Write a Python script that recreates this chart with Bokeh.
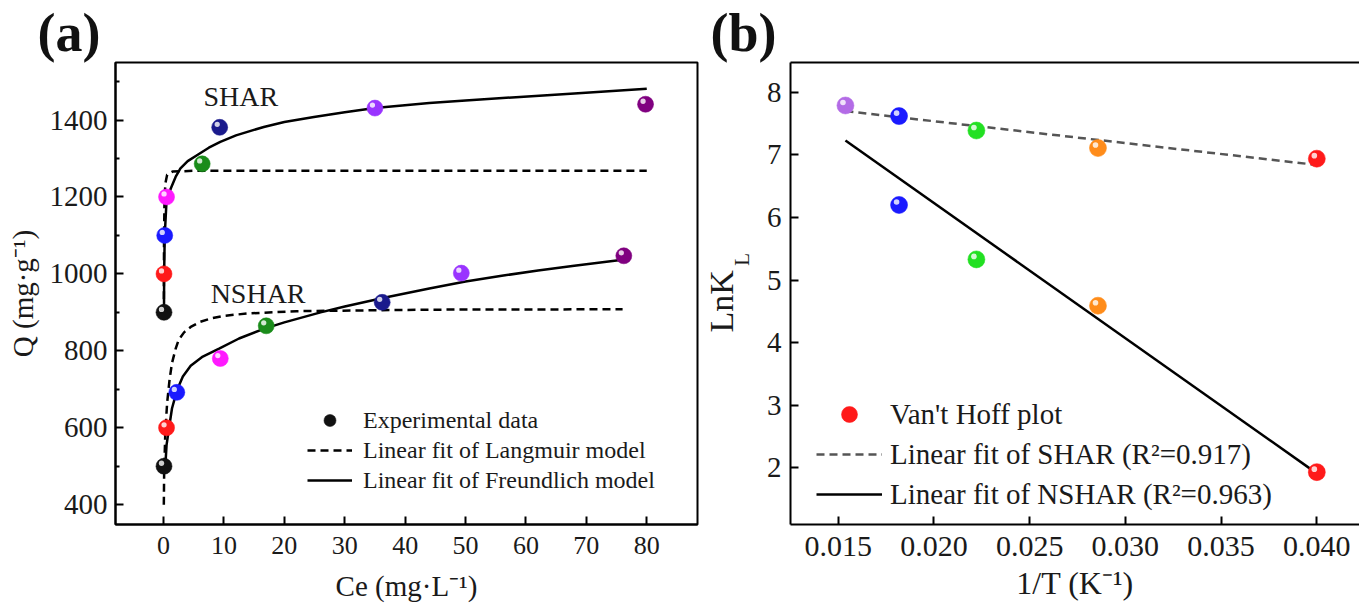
from bokeh.plotting import figure
from bokeh.models import (Range1d, FixedTicker, Legend, LegendItem, Label, Title,
                          ColumnDataSource, PrintfTickFormatter, LinearAxis)
from bokeh.transform import dodge
from bokeh.layouts import row
from bokeh.embed import file_html
from bokeh.resources import INLINE

SERIF = "Liberation Serif"

# ---------------- panel (a) data ----------------
shar_ce = [0.08, 0.08, 0.2, 0.5, 6.4, 9.3, 35.0, 79.8]
shar_q = [900, 1000, 1100, 1200, 1286, 1381, 1431, 1441]
nshar_ce = [0.08, 0.5, 2.2, 9.4, 17.0, 36.2, 49.3, 76.2]
nshar_q = [500, 600, 692, 780, 865, 926, 1002, 1047]
colors_a = ["#111111", "#ff1a1a", "#1a1aff", "#ff1aff", "#1a8c1a", "#1a1a8c", "#9933ff", "#800080"]

shar_lang_ce = [0.05, 0.08, 0.15, 0.3, 0.6, 1.5, 5.0, 80.0]
shar_lang_q = [900, 1080, 1180, 1235, 1258, 1266, 1268, 1268]
shar_freu_ce = [0.08, 0.1, 0.2, 0.5, 1.2, 2.0, 2.8, 4.0, 5.6, 7.5, 9.4, 12.0, 16.6, 20.0,
                24.9, 30.0, 35.0, 44.0, 50.0, 59.0, 68.0, 80.0]
shar_freu_q = [900, 1000, 1100, 1190, 1222, 1252, 1274, 1293, 1309, 1328, 1343, 1360, 1382,
               1395, 1408, 1420, 1431, 1444, 1451, 1460, 1469, 1481]

nshar_lang_ce = [0.05, 0.1, 0.3, 0.6, 1.0, 1.4, 2.0, 2.5, 3.4, 4.5, 6.0, 7.8, 10.0, 13.9,
                 22.0, 44.0, 76.0]
nshar_lang_q = [400, 480, 590, 665, 725, 768, 805, 828, 848, 862, 875, 884, 891, 897,
                903, 907, 908]
nshar_freu_ce = [0.3, 0.5, 0.88, 1.4, 2.26, 3.2, 4.5, 6.5, 9.2, 12.5, 16.6, 20.0, 26.0, 30.0,
                 36.5, 44.0, 50.0, 56.0, 62.0, 68.0, 76.0]
nshar_freu_q = [500, 555, 596, 650, 699, 733, 761, 785, 806, 832, 857, 874, 900, 915,
                938, 962, 980, 995, 1009, 1021, 1037]

xticks_a = [0, 10, 20, 30, 40, 50, 60, 70, 80]
yticks_a = [400, 600, 800, 1000, 1200, 1400]
yminor_a = [500, 700, 900, 1100, 1300, 1500]

# ---------------- panel (b) data ----------------
inv_t = [0.01538, 0.01818, 0.02222, 0.02857, 0.04]
lnk_shar = [7.79, 7.62, 7.39, 7.11, 6.94]
lnk_nshar = [6.20, 5.33, 4.59, 1.93]
inv_t_nshar = [0.01818, 0.02222, 0.02857, 0.04]
colors_b_shar = ["#b36be6", "#1a1aff", "#22e022", "#ff8c1a", "#ff1a1a"]
colors_b_nshar = ["#1a1aff", "#22e022", "#ff8c1a", "#ff1a1a"]
fit_x = [0.01538, 0.04]
fit_shar = [7.70, 6.84]
fit_nshar = [7.23, 1.91]

xticks_b = [0.015, 0.020, 0.025, 0.030, 0.035, 0.040]
yticks_b = [2, 3, 4, 5, 6, 7, 8]
# where the y title "LnK" and its subscript sit along the y axis
ytitle_pos_b = 4.66
ysub_pos_b = 5.33

TXT = "#1a1a1a"

# frame sizes (px) and ranges
A_XR, A_YR, A_W, A_H = (-7.95, 88.4), (348.5, 1549.5), 582, 466
B_XR, B_YR, B_W, B_H = (0.01251, 0.04223), (1.093, 8.477), 573, 464


def style_axis(ax, fs):
    ax.axis_line_width = 2
    ax.axis_line_color = "black"
    ax.major_tick_in = 8
    ax.major_tick_out = 0
    ax.minor_tick_in = 4
    ax.minor_tick_out = 0
    ax.major_tick_line_width = 2
    ax.minor_tick_line_width = 2
    ax.major_label_text_font = SERIF
    ax.major_label_text_color = TXT
    ax.major_label_text_font_size = fs
    ax.axis_label_text_font = SERIF
    ax.axis_label_text_font_style = "normal"
    ax.axis_label_text_color = TXT


def bare_axis(ax):
    ax.axis_line_color = None
    ax.major_tick_line_color = None
    ax.minor_tick_line_color = None
    ax.major_tick_in = 0
    ax.major_tick_out = 0
    ax.minor_tick_in = 0
    ax.minor_tick_out = 0
    ax.major_label_text_font = SERIF
    ax.major_label_text_color = TXT


def balls(p, src, size, xr, yr, w, h):
    """glossy sphere: coloured disc plus a small highlight up-left (offset given in px)."""
    r = p.scatter("x", "y", source=src, size=size, fill_color="c", line_color="c", line_alpha=0.55)
    dx = -2.5 * (xr[1] - xr[0]) / w
    dy = 3.0 * (yr[1] - yr[0]) / h
    p.scatter(dodge("x", dx, range=p.x_range), dodge("y", dy, range=p.y_range), source=src,
              size=size * 0.33, fill_color="white", fill_alpha=0.8, line_color=None)
    return r


# ================= panel (a) =================
pa = figure(width=700, height=610, output_backend="svg", toolbar_location=None,
            x_range=Range1d(*A_XR), y_range=Range1d(*A_YR),
            min_border_left=115, min_border_right=3, min_border_top=60, min_border_bottom=84)
pa.grid.visible = False
pa.outline_line_color = "black"
pa.outline_line_width = 2
pa.xaxis.ticker = FixedTicker(ticks=xticks_a)
pa.yaxis.ticker = FixedTicker(ticks=yticks_a, minor_ticks=yminor_a)
style_axis(pa.xaxis[0], "26px")
style_axis(pa.yaxis[0], "29px")
pa.xaxis.major_label_standoff = 12
pa.yaxis.major_label_standoff = 8
pa.xaxis.axis_label = "Ce (mg·L⁻¹)"
pa.xaxis.axis_label_text_font_size = "29px"
pa.xaxis.axis_label_standoff = 13
pa.yaxis.axis_label = "Q (mg·g⁻¹)"
pa.yaxis.axis_label_text_font_size = "29px"
pa.yaxis.axis_label_standoff = 8

pa.add_layout(Title(text="(a)", align="left", offset=-78, standoff=0,
                    text_font=SERIF, text_font_size="54px", text_font_style="bold",
                    text_color="#111111"), "above")

r_sl = pa.line(shar_lang_ce, shar_lang_q, line_color="black", line_width=2.5, line_dash="8 5")
pa.line(nshar_lang_ce, nshar_lang_q, line_color="black", line_width=2.5, line_dash="8 5")
r_sf = pa.line(shar_freu_ce, shar_freu_q, line_color="black", line_width=2.5)
pa.line(nshar_freu_ce, nshar_freu_q, line_color="black", line_width=2.5)

src_sa = ColumnDataSource(dict(x=shar_ce, y=shar_q, c=colors_a))
src_na = ColumnDataSource(dict(x=nshar_ce, y=nshar_q, c=colors_a))
r_pts = balls(pa, src_sa, 16, A_XR, A_YR, A_W, A_H)
balls(pa, src_na, 16, A_XR, A_YR, A_W, A_H)

pa.add_layout(Label(x=6.6, y=1462, text="SHAR", text_font=SERIF, text_font_size="28px",
                    text_baseline="middle", text_color=TXT))
pa.add_layout(Label(x=7.8, y=949, text="NSHAR", text_font=SERIF, text_font_size="28px",
                    text_baseline="middle", text_color=TXT))

leg_a = Legend(items=[
    LegendItem(label="Experimental data", renderers=[r_pts], index=0),
    LegendItem(label="Linear fit of Langmuir model", renderers=[r_sl]),
    LegendItem(label="Linear fit of Freundlich model", renderers=[r_sf]),
], location=(192, 29), glyph_width=45, glyph_height=30, label_height=30, label_standoff=11,
    spacing=0, padding=0, margin=0, border_line_color=None, background_fill_alpha=0,
    label_text_font=SERIF, label_text_font_size="24px", label_text_color=TXT)
pa.add_layout(leg_a)

# ================= panel (b) =================
pb = figure(width=659, height=610, output_backend="svg", toolbar_location=None,
            x_range=Range1d(*B_XR), y_range=Range1d(*B_YR),
            min_border_left=86, min_border_right=0, min_border_top=60, min_border_bottom=86)
pb.grid.visible = False
pb.outline_line_color = None
xb = pb.below[0]
yb = pb.left[0]
xb.ticker = FixedTicker(ticks=xticks_b)
yb.ticker = FixedTicker(ticks=yticks_b)
xb.formatter = PrintfTickFormatter(format="%.3f")
style_axis(xb, "30px")
style_axis(yb, "29px")
xb.major_label_standoff = 12
yb.major_label_standoff = 9
xb.axis_label = "1/T (K⁻¹)"
xb.axis_label_text_font_size = "32px"
xb.axis_label_standoff = 6

# top border line (no ticks, no labels)
top_axis = LinearAxis(ticker=FixedTicker(ticks=[]), axis_line_width=2, axis_line_color="black",
                      major_tick_in=0, major_tick_out=0, minor_tick_in=0, minor_tick_out=0,
                      major_label_standoff=0, axis_label_standoff=0)
pb.add_layout(top_axis, "above")
pb.add_layout(Title(text="(b)", align="left", offset=-80, standoff=0,
                    text_font=SERIF, text_font_size="54px", text_font_style="bold",
                    text_color="#111111"), "above")

# y title "LnK" + subscript "L" drawn as labels of two bare extra axes
pb.extra_y_ranges = {"title": Range1d(*B_YR)}
sub_axis = LinearAxis(y_range_name="title", ticker=FixedTicker(ticks=[ysub_pos_b]),
                      major_label_overrides={ysub_pos_b: "L"}, major_label_orientation="vertical",
                      major_label_standoff=9)
bare_axis(sub_axis)
sub_axis.major_label_text_font_size = "21px"
pb.add_layout(sub_axis, "left")
main_axis = LinearAxis(y_range_name="title", ticker=FixedTicker(ticks=[ytitle_pos_b]),
                       major_label_overrides={ytitle_pos_b: "LnK"}, major_label_orientation="vertical",
                       major_label_standoff=-13)
bare_axis(main_axis)
main_axis.major_label_text_font_size = "34px"
pb.add_layout(main_axis, "left")

r_fs = pb.line(fit_x, fit_shar, line_color="#555555", line_width=2.5, line_dash="8 5")
r_fn = pb.line(fit_x, fit_nshar, line_color="black", line_width=2.5)
src_sb = ColumnDataSource(dict(x=inv_t, y=lnk_shar, c=colors_b_shar))
src_nb = ColumnDataSource(dict(x=inv_t_nshar, y=lnk_nshar, c=colors_b_nshar))
r_vh = balls(pb, src_sb, 17, B_XR, B_YR, B_W, B_H)
balls(pb, src_nb, 17, B_XR, B_YR, B_W, B_H)

leg_b = Legend(items=[
    LegendItem(label="Van't Hoff plot", renderers=[r_vh], index=4),
    LegendItem(label="Linear fit of SHAR (R²=0.917)", renderers=[r_fs]),
    LegendItem(label="Linear fit of NSHAR (R²=0.963)", renderers=[r_fn]),
], location=(26, 10), glyph_width=66, glyph_height=40, label_height=40, label_standoff=8,
    spacing=0, padding=0, margin=0, border_line_color=None, background_fill_alpha=0,
    label_text_font=SERIF, label_text_font_size="29px", label_text_color=TXT)
pb.add_layout(leg_b)

layout = row(pa, pb, spacing=0)
open("out.html", "w").write(file_html(layout, INLINE))
